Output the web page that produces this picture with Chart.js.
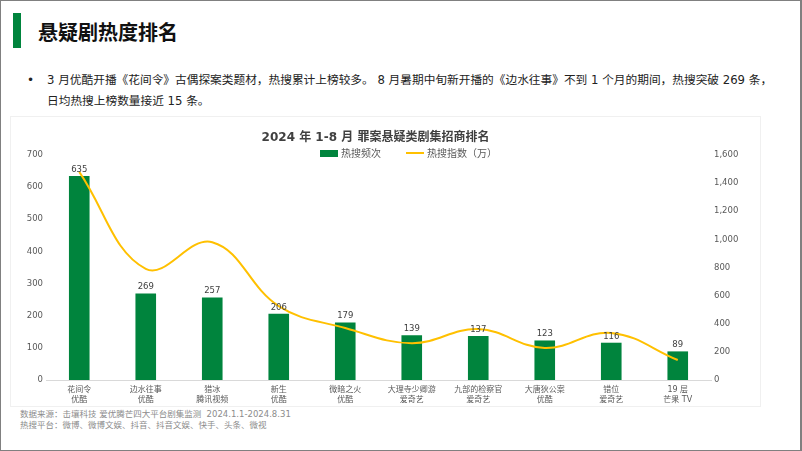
<!DOCTYPE html>
<html>
<head>
<meta charset="utf-8">
<script src="https://cdn.jsdelivr.net/npm/chart.js@4.4.1/dist/chart.umd.min.js"></script>
<style>
  html, body { margin: 0; padding: 0; background: #fff; }
  body { width: 802px; height: 451px; position: relative; overflow: hidden;
         font-family: "DejaVu Sans", "Noto Sans CJK SC", sans-serif; }
  #frame { position: absolute; left: 0; top: 0; width: 802px; height: 451px;
           box-sizing: border-box; border: 1px solid #808080; border-right-width: 2px; }
  #mark { position: absolute; left: 13px; top: 13px; width: 8px; height: 35px; background: #00843d; }
  #head { position: absolute; left: 38px; top: 17px; font-size: 20px; font-weight: bold; color: #111;
          font-family: "Noto Sans CJK SC", sans-serif; line-height: 30px; }
  #dot { position: absolute; left: 27px; top: 70px; font-size: 12px; line-height: 21px; color: #222; }
  #note { position: absolute; left: 47px; top: 70px; font-size: 11.7px; line-height: 21px; color: #222;
          white-space: nowrap; }
  #panel { position: absolute; left: 10px; top: 116px; width: 751px; height: 291px;
           box-sizing: border-box; border: 1px solid #f0f0f0; }
  #wrap { position: absolute; left: 10px; top: 118px; width: 751px; height: 291px; }
  #ctitle { position: absolute; left: 0; width: 751px; top: 128px; text-align: center;
            font-size: 12px; font-weight: bold; color: #404040; line-height: 18px; }
  #legend { position: absolute; left: 320px; top: 147px; height: 14px; font-size: 10px; color: #595959;
            white-space: nowrap; line-height: 14px; }
  #legend span.item { display: inline-block; margin-right: 25px; }
  #legend i { display: inline-block; width: 18px; vertical-align: middle; margin-right: 3px; position: relative; top: -1px; }
  #source { position: absolute; left: 20px; top: 409px; font-size: 8.5px; line-height: 11px; color: #8c8c8c;
            white-space: nowrap; }
</style>
</head>
<body>
<div id="frame"></div>
<div id="mark"></div>
<div id="head">悬疑剧热度排名</div>
<div id="dot">•</div>
<div id="note">3 月优酷开播《花间令》古偶探案类题材，热搜累计上榜较多。 8 月暑期中旬新开播的《边水往事》不到 1 个月的期间，热搜突破 269 条，<br>日均热搜上榜数量接近 15 条。</div>
<div id="panel"></div>
<div id="wrap"><canvas id="chart" width="751" height="291"></canvas></div>
<div id="ctitle">2024 年 1-8 月 罪案悬疑类剧集招商排名</div>
<div id="legend"></div>
<div id="source">数据来源：击壤科技 爱优腾芒四大平台剧集监测&nbsp; 2024.1.1-2024.8.31<br>热搜平台：微博、微博文娱、抖音、抖音文娱、快手、头条、微视</div>

<script>
var dramas = ["花间令", "边水往事", "猎冰", "新生", "微暗之火", "大理寺少卿游", "九部的检察官", "大唐狄公案", "错位", "19 层"];
var platforms = ["优酷", "优酷", "腾讯视频", "优酷", "优酷", "爱奇艺", "爱奇艺", "优酷", "爱奇艺", "芒果 TV"];
var searchCount = [635, 269, 257, 206, 179, 139, 137, 123, 116, 89];
var searchIndex = [1480, 790, 980, 525, 370, 262, 362, 228, 335, 142];

var barLabel = "热搜频次";
var lineLabel = "热搜指数（万）";
var barColor = "#00843d";
var lineColor = "#ffc000";

var labels = [];
for (var i = 0; i < dramas.length; i++) {
    labels.push([dramas[i], platforms[i]]);
}

// legend built in html so it can sit where the original had it
var legend = document.getElementById("legend");
legend.innerHTML =
    '<span class="item"><i style="height:7px;background:' + barColor + '"></i>' + barLabel + '</span>' +
    '<span class="item"><i style="height:2px;background:' + lineColor + '"></i>' + lineLabel + '</span>';

var barValues = {
    id: "barValues",
    afterDatasetsDraw: function (chart) {
        var ctx = chart.ctx;
        var meta = chart.getDatasetMeta(0);
        ctx.save();
        ctx.font = "8.5px 'DejaVu Sans', 'Noto Sans CJK SC', sans-serif";
        ctx.fillStyle = "#404040";
        ctx.textAlign = "center";
        ctx.textBaseline = "bottom";
        for (var i = 0; i < meta.data.length; i++) {
            var bar = meta.data[i];
            ctx.fillText(searchCount[i], bar.x, bar.y - 2);
        }
        ctx.restore();
    }
};

Chart.defaults.font.family = "'DejaVu Sans', 'Noto Sans CJK SC', sans-serif";

var chart = new Chart("chart", {
    type: "bar",
    data: {
        labels: labels,
        datasets: [
            {
                type: "bar",
                label: barLabel,
                data: searchCount,
                backgroundColor: barColor,
                yAxisID: "y",
                categoryPercentage: 1,
                barPercentage: 0.31,
                order: 1
            },
            {
                type: "line",
                label: lineLabel,
                data: searchIndex,
                borderColor: lineColor,
                borderWidth: 2,
                pointRadius: 0,
                tension: 0.4,
                yAxisID: "y2",
                order: 0
            }
        ]
    },
    plugins: [barValues],
    options: {
        responsive: false,
        animation: false,
        layout: { padding: { top: 37, left: 0, right: 0, bottom: 0 } },
        plugins: {
            legend: { display: false },
            title: { display: false },
            tooltip: { enabled: false }
        },
        scales: {
            x: {
                grid: { display: false, drawTicks: false },
                border: { color: "#d9d9d9", width: 1 },
                ticks: { color: "#595959", font: { size: 8, lineHeight: 1.25 }, padding: 5, maxRotation: 0, autoSkip: false },
                afterFit: function (scale) { scale.height = 29; }
            },
            y: {
                position: "left",
                min: 0,
                max: 700,
                grid: { display: false, drawTicks: false },
                border: { display: false },
                ticks: { stepSize: 100, color: "#595959", font: { size: 8.5 }, padding: 3 },
                afterFit: function (scale) { scale.width = 36; }
            },
            y2: {
                position: "right",
                min: 0,
                max: 1600,
                grid: { display: false, drawTicks: false },
                border: { display: false },
                ticks: {
                    stepSize: 200, color: "#595959", font: { size: 8.5 }, padding: 3,
                    callback: function (v) { return v.toLocaleString("en-US"); }
                },
                afterFit: function (scale) { scale.width = 50; }
            }
        }
    }
});
</script>
</body>
</html>
